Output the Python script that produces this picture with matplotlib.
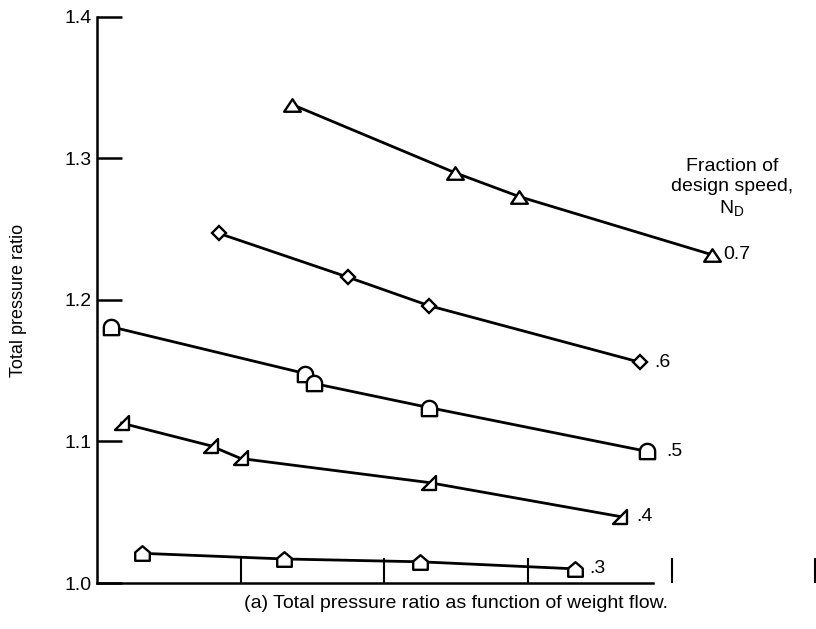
import matplotlib
matplotlib.use("Agg")
import matplotlib.pyplot as plt
import numpy as np
from matplotlib.path import Path

plt.rcParams['font.family'] = ['Liberation Sans', 'DejaVu Sans']
plt.rcParams['mathtext.fontset'] = 'custom'
plt.rcParams['mathtext.rm'] = 'Liberation Sans'

# Weight flow (arbitrary units) and total pressure ratio per speed line
flow_07 = [1.36, 2.49, 2.94, 4.28]
pr_07 = [1.338, 1.290, 1.273, 1.232]

flow_06 = [0.85, 1.75, 2.31, 3.78]
pr_06 = [1.247, 1.216, 1.196, 1.156]

flow_05 = [0.10, 1.45, 1.51, 2.31, 3.83]
pr_05 = [1.181, 1.148, 1.141, 1.124, 1.093]

flow_04 = [0.17, 0.79, 1.00, 2.31, 3.64]
pr_04 = [1.113, 1.097, 1.088, 1.071, 1.047]

flow_03 = [0.31, 1.30, 2.25, 3.33]
pr_03 = [1.021, 1.017, 1.015, 1.010]

speed_labels = ['0.7', '.6', '.5', '.4', '.3']

# Marcadores proprios (triangulo achatado, meia-lua, triangulo retangulo, casinha)
tri = Path([(0, 0.75), (-1, -0.75), (1, -0.75), (0, 0.75)], closed=True)
dome_verts = [(-1, -1), (1, -1)] + [(np.cos(np.radians(a)), np.sin(np.radians(a)))
                                   for a in np.linspace(0, 180, 25)] + [(-1, -1)]
dome = Path(dome_verts, closed=True)
rtri = Path([(-1, -1), (1, -1), (1, 1), (-1, -1)], closed=True)
house = Path([(-1, -1), (1, -1), (1, 0.15), (0, 1), (-1, 0.15), (-1, -1)], closed=True)

series = [
    (flow_07, pr_07, tri, 12, 8),
    (flow_06, pr_06, 'D', 7.5, 10),
    (flow_05, pr_05, dome, 11, 14),
    (flow_04, pr_04, rtri, 10.5, 12),
    (flow_03, pr_03, house, 10.5, 10),
]

fig = plt.figure(figsize=(8.16, 6.29), dpi=100)
ax = fig.add_axes([0.119, 0.0731, 0.880, 0.900])

for (x, y, mk, ms, off), lab in zip(series, speed_labels):
    ax.plot(x, y, color='black', lw=2.0, marker=mk, markersize=ms,
            markerfacecolor='white', markeredgecolor='black', markeredgewidth=1.7,
            clip_on=False)
    ax.annotate(lab, xy=(x[-1], y[-1]), xytext=(off, 0), textcoords='offset points',
                ha='left', va='center', fontsize=14)

ax.text(4.42, 1.279, 'Fraction of\ndesign speed,\nN$_\\mathrm{D}$', ha='center', va='center',
        multialignment='center', fontsize=14, linespacing=1.25)

ax.set_xlim(0, 5)
ax.set_ylim(1.0, 1.4)

ax.spines['top'].set_visible(False)
ax.spines['right'].set_visible(False)
ax.spines['left'].set_linewidth(1.8)
ax.spines['bottom'].set_linewidth(1.8)
ax.spines['bottom'].set_bounds(0, 3.87)

ax.set_yticks([1.0, 1.1, 1.2, 1.3, 1.4])
ax.set_yticklabels(['1.0', '1.1', '1.2', '1.3', '1.4'])
ax.set_xticks([1, 2, 3, 4, 5])
ax.set_xticklabels([])
ax.tick_params(axis='y', direction='in', length=18, width=1.8, pad=4, labelsize=14)
ax.tick_params(axis='x', direction='in', length=18, width=1.5)

ax.set_ylabel('Total pressure ratio', fontsize=13)
ax.yaxis.set_label_coords(-0.097, 0.5)
ax.set_xlabel('(a) Total pressure ratio as function of weight flow.', fontsize=14)
ax.xaxis.set_label_coords(0.5, -0.022)

fig.savefig('out.png', dpi=100)
